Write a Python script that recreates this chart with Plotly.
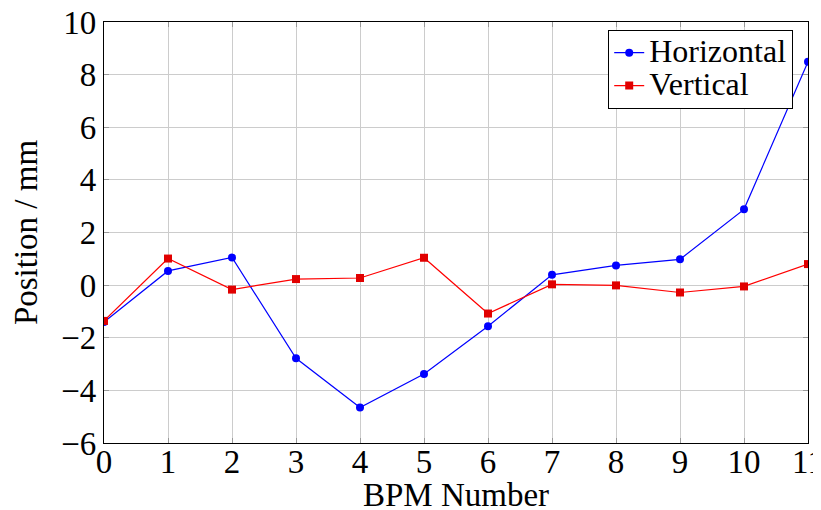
import plotly.graph_objects as go

bpm = list(range(12))
horizontal = [-1.40, 0.54, 1.05, -2.78, -4.65, -3.38, -1.56, 0.39, 0.75, 0.98, 2.88, 8.49]
vertical = [-1.36, 1.01, -0.17, 0.23, 0.27, 1.04, -1.08, 0.03, -0.01, -0.28, -0.05, 0.80]
series_names = ["Horizontal", "Vertical"]
x_title = "BPM Number"
y_title = "Position / mm"
x_ticks = list(range(12))
y_ticks = list(range(-6, 11, 2))

font_family = "Liberation Serif"
fs = 33
legend_fs = 23
legend_text_fs = 32


def legend_label(s):
    return f"<span style='font-size:{legend_text_fs}px'>{s}</span>"


fig = go.Figure()
fig.add_trace(go.Scatter(x=bpm, y=horizontal, mode="lines+markers", name=legend_label(series_names[0]),
                         line=dict(color="rgb(0,0,255)", width=1.2),
                         marker=dict(symbol="circle", size=8, color="rgb(0,0,255)")))
fig.add_trace(go.Scatter(x=bpm, y=vertical, mode="lines+markers", name=legend_label(series_names[1]),
                         line=dict(color="rgb(255,0,0)", width=1.2),
                         marker=dict(symbol="square", size=8, color="rgb(225,0,0)")))

axis_common = dict(showline=True, linecolor="black", linewidth=1.2, mirror="ticks",
                   ticks="inside", ticklen=5, tickcolor="#999", showgrid=True,
                   gridcolor="#cccccc", gridwidth=1, zeroline=False,
                   automargin=False, ticklabeloverflow="allow",
                   tickfont=dict(family=font_family, size=fs, color="black"))

fig.update_xaxes(range=[0, 11], tickvals=x_ticks, ticktext=[str(v) for v in x_ticks],
                 ticklabelstandoff=-11,
                 **axis_common)
fig.update_yaxes(range=[-6, 10], tickvals=y_ticks,
                 title=dict(text=y_title, font=dict(family=font_family, size=fs, color="black"),
                            standoff=22),
                 **axis_common)

fig.add_annotation(text=x_title, xref="paper", yref="paper", x=0.5, y=0,
                   xanchor="center", yanchor="middle", yshift=-52, showarrow=False,
                   font=dict(family=font_family, size=fs, color="black"))

fig.update_layout(
    width=821, height=510,
    margin=dict(l=96, r=21, t=14, b=75),
    plot_bgcolor="white", paper_bgcolor="white",
    font=dict(family=font_family, size=fs, color="black"),
    legend=dict(x=0.9787, y=0.981, xanchor="right", yanchor="top",
                bgcolor="white", bordercolor="black", borderwidth=1.2,
                font=dict(family=font_family, size=legend_fs, color="black"),
                itemwidth=30, tracegroupgap=0),
    showlegend=True,
)

fig.write_html("out.html")
